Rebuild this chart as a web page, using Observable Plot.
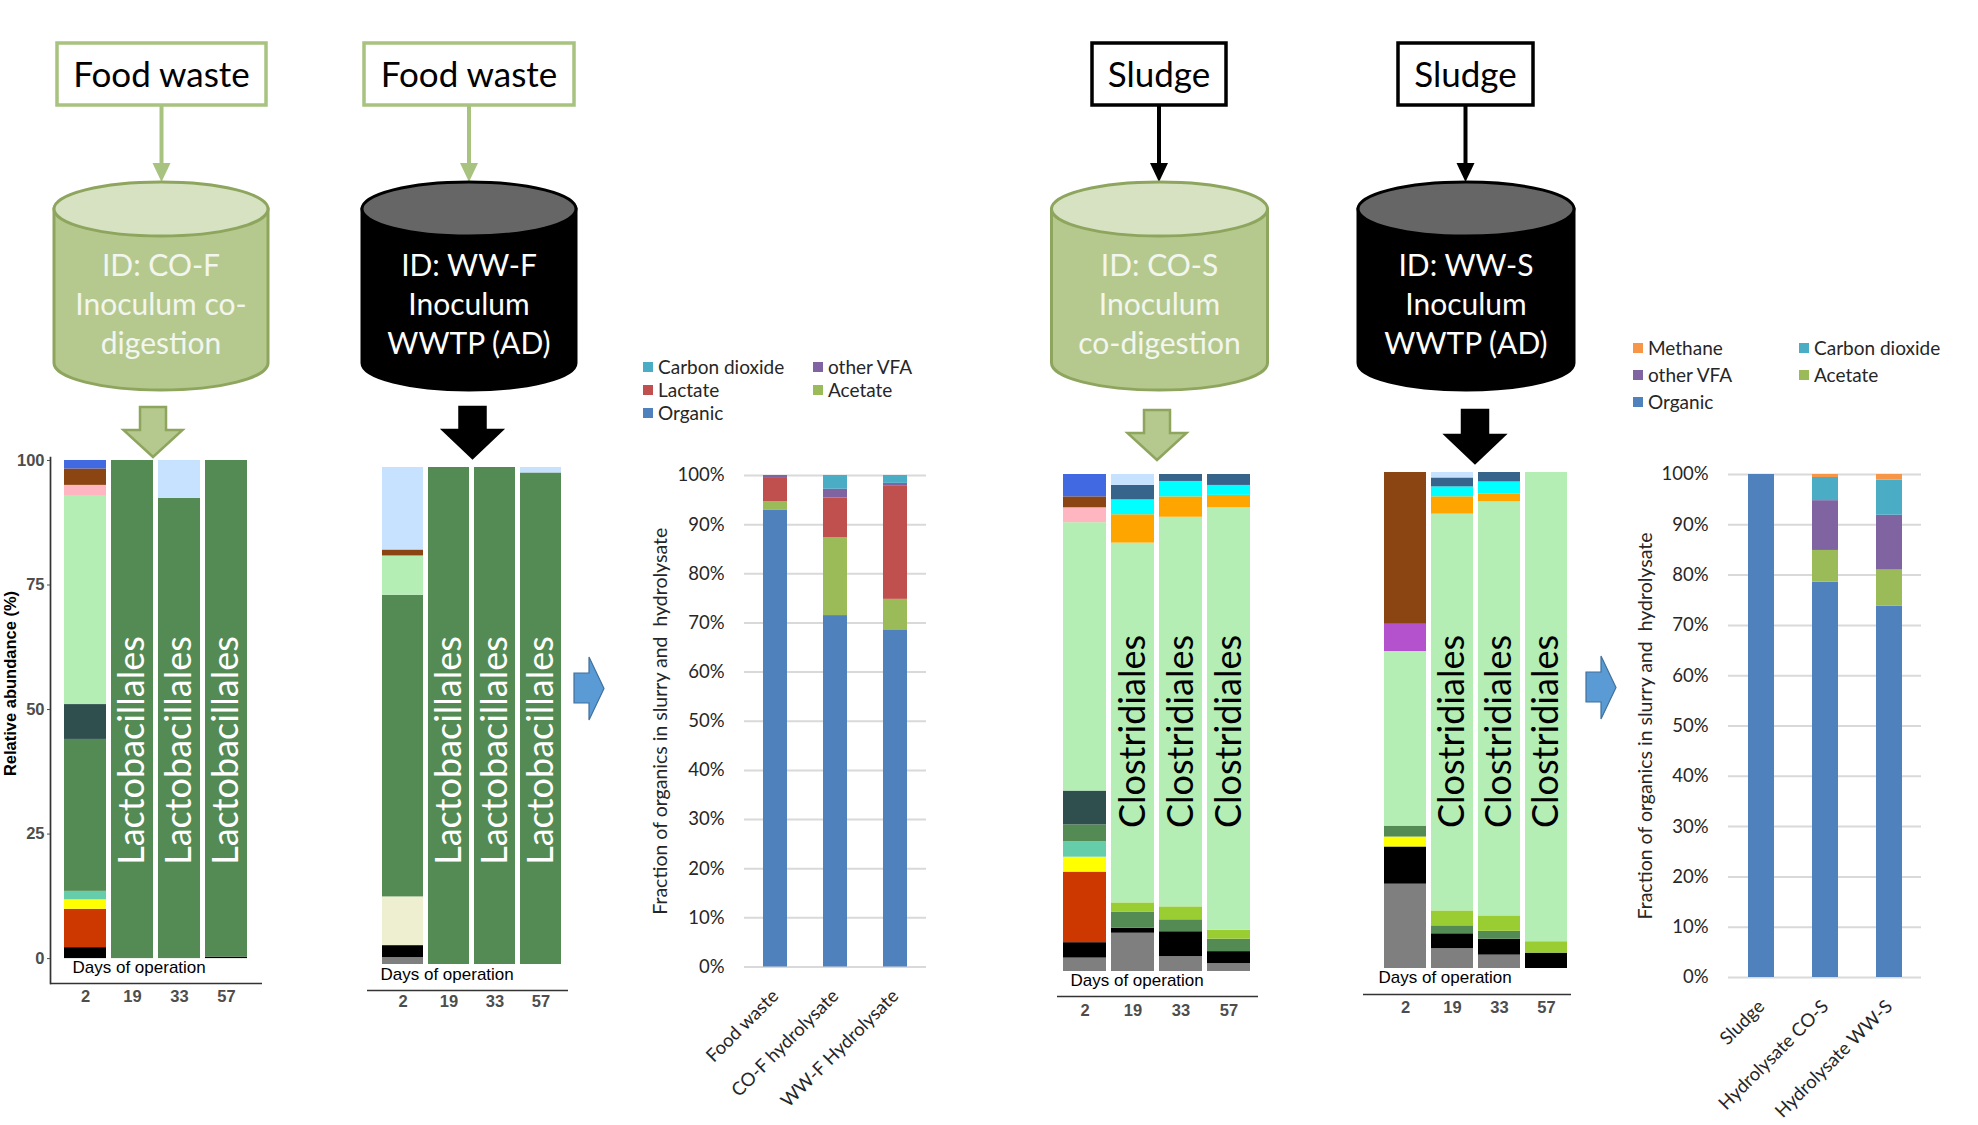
<!DOCTYPE html>
<html>
<head>
<meta charset="utf-8">
<script src="https://cdn.jsdelivr.net/npm/d3@7"></script>
<script src="https://cdn.jsdelivr.net/npm/@observablehq/plot@0.6"></script>
<style>
  html,body{margin:0;padding:0;background:#fff;}
  #root{position:relative;width:1978px;height:1125px;overflow:hidden;background:#fff;}
  .abs{position:absolute;}
  .leg{position:absolute;font-family:Lato,sans-serif;font-size:19px;color:#262626;white-space:nowrap;line-height:19px;}
  .leg i{position:absolute;width:10px;height:10px;left:0;top:-5px;}
  .leg span{position:absolute;left:15px;top:-10px;}
</style>
</head>
<body>
<div id="root"></div>
<script>
// ======================= DATA =======================
const days = ["2", "19", "33", "57"];
// taxonomic orders in stacking order (bottom -> top)
const taxa = ["Order A", "Order B", "Order C", "Order D", "Order E", "Order F",
  "Lactobacillales", "Order G", "Order H", "Clostridiales", "Order I", "Order J",
  "Order K", "Order L", "Order M", "Order N", "Order O", "Order P"];

// relative abundance (%) : [day, taxon, value]
const coF = [
  ["2", "Order B", 2.2], ["2", "Order C", 7.7], ["2", "Order E", 1.9], ["2", "Order F", 1.7],
  ["2", "Lactobacillales", 30.5], ["2", "Order H", 7.0], ["2", "Clostridiales", 41.8],
  ["2", "Order M", 2.2], ["2", "Order N", 3.3], ["2", "Order O", 1.7],
  ["19", "Lactobacillales", 100],
  ["33", "Lactobacillales", 92.4], ["33", "Order P", 7.6],
  ["57", "Order B", 0.3], ["57", "Lactobacillales", 99.7]
];
const wwF = [
  ["2", "Order A", 1.4], ["2", "Order B", 2.4], ["2", "Order D", 9.8], ["2", "Lactobacillales", 60.7],
  ["2", "Clostridiales", 7.9], ["2", "Order N", 1.2], ["2", "Order P", 16.6],
  ["19", "Lactobacillales", 100],
  ["33", "Lactobacillales", 100],
  ["57", "Lactobacillales", 98.9], ["57", "Order P", 1.1]
];
const coS = [
  ["2", "Order A", 2.7], ["2", "Order B", 3.1], ["2", "Order C", 14.2], ["2", "Order E", 3.0],
  ["2", "Order F", 3.1], ["2", "Lactobacillales", 3.4], ["2", "Order H", 6.8], ["2", "Clostridiales", 54.0],
  ["2", "Order M", 3.0], ["2", "Order N", 2.2], ["2", "Order O", 4.5],
  ["19", "Order A", 7.7], ["19", "Order B", 1.0], ["19", "Lactobacillales", 3.2], ["19", "Order G", 1.9],
  ["19", "Clostridiales", 72.4], ["19", "Order J", 5.7], ["19", "Order K", 3.0], ["19", "Order L", 2.9], ["19", "Order P", 2.2],
  ["33", "Order A", 3.0], ["33", "Order B", 5.0], ["33", "Lactobacillales", 2.4], ["33", "Order G", 2.6],
  ["33", "Clostridiales", 78.4], ["33", "Order J", 4.1], ["33", "Order K", 3.1], ["33", "Order L", 1.4],
  ["57", "Order A", 1.6], ["57", "Order B", 2.4], ["57", "Lactobacillales", 2.5], ["57", "Order G", 1.8],
  ["57", "Clostridiales", 85.0], ["57", "Order J", 2.5], ["57", "Order K", 2.0], ["57", "Order L", 2.2]
];
const wwS = [
  ["2", "Order A", 17.0], ["2", "Order B", 7.5], ["2", "Order E", 2.0], ["2", "Lactobacillales", 2.2],
  ["2", "Clostridiales", 35.2], ["2", "Order I", 5.5], ["2", "Order N", 30.6],
  ["19", "Order A", 4.0], ["19", "Order B", 3.0], ["19", "Lactobacillales", 1.6], ["19", "Order G", 3.0],
  ["19", "Clostridiales", 80.0], ["19", "Order J", 3.5], ["19", "Order K", 2.0], ["19", "Order L", 1.8], ["19", "Order P", 1.1],
  ["33", "Order A", 2.7], ["33", "Order B", 3.2], ["33", "Lactobacillales", 1.6], ["33", "Order G", 3.1],
  ["33", "Clostridiales", 83.5], ["33", "Order J", 1.6], ["33", "Order K", 2.4], ["33", "Order L", 1.9],
  ["57", "Order B", 3.1], ["57", "Order G", 2.3], ["57", "Clostridiales", 94.6]
];
const abundanceTicks = [0, 25, 50, 75, 100];
const labelledDays = ["19", "33", "57"];

// fraction of organics (%)
const fwSamples = ["Food waste", "CO-F hydrolysate", "WW-F Hydrolysate"];
const fwOrganic = [92.9, 71.5, 68.6];
const fwAcetate = [1.8, 15.8, 6.2];
const fwLactate = [4.7, 8.1, 23.0];
const fwOtherVFA = [0.6, 1.8, 0.6];
const fwCarbonDioxide = [0.0, 2.8, 1.6];
const fwComponents = ["Organic", "Acetate", "Lactate", "other VFA", "Carbon dioxide"];
const fwLegend = ["Carbon dioxide", "other VFA", "Lactate", "Acetate", "Organic"];

const slSamples = ["Sludge", "Hydrolysate CO-S", "Hydrolysate WW-S"];
const slOrganic = [100.0, 78.6, 73.8];
const slAcetate = [0.0, 6.3, 7.2];
const slOtherVFA = [0.0, 9.9, 10.9];
const slCarbonDioxide = [0.0, 4.6, 7.0];
const slMethane = [0.0, 0.6, 1.1];
const slComponents = ["Organic", "Acetate", "other VFA", "Carbon dioxide", "Methane"];
const slLegend = ["Methane", "Carbon dioxide", "other VFA", "Acetate", "Organic"];
const pctTicks = [0, 10, 20, 30, 40, 50, 60, 70, 80, 90, 100];

// ======================= STYLES =======================
const taxaColors = ["#7F7F7F", "#000000", "#CD3700", "#EEEED1", "#FFFF00", "#66CDAA",
  "#548B54", "#9ACD32", "#2F4F4F", "#B4EEB4", "#B452CD", "#FFA500",
  "#00FFFF", "#36648B", "#FFB6C1", "#8B4513", "#4169E1", "#C6E2FF"];
const compColors = {"Organic": "#4F81BD", "Acetate": "#9BBB59", "Lactate": "#C0504D",
  "other VFA": "#8064A2", "Carbon dioxide": "#4BACC6", "Methane": "#F79646"};

const root = d3.select("#root");

// ======================= DIAGRAM DECOR =======================
const deco = root.append("svg").attr("class", "abs").attr("width", 1978).attr("height", 1125)
  .style("left", "0px").style("top", "0px");

const GREEN_FILL = "#B5C98E", GREEN_TOP = "#D6E2C2", GREEN_STROKE = "#8EA55E", BOX_GREEN = "#A8C280";
const feeds = [
  {label: "Food waste", x0: 57, x1: 266, stroke: BOX_GREEN},
  {label: "Food waste", x0: 364, x1: 574, stroke: BOX_GREEN},
  {label: "Sludge", x0: 1092, x1: 1226, stroke: "#000"},
  {label: "Sludge", x0: 1398, x1: 1533, stroke: "#000"}
];
feeds.forEach(f => {
  const cx = (f.x0 + f.x1) / 2;
  deco.append("rect").attr("x", f.x0).attr("y", 43).attr("width", f.x1 - f.x0).attr("height", 62)
    .attr("fill", "#fff").attr("stroke", f.stroke).attr("stroke-width", 3.5);
  deco.append("text").attr("x", cx).attr("y", 73).attr("text-anchor", "middle")
    .attr("dominant-baseline", "central").attr("font-family", "Lato").attr("font-size", 35)
    .attr("fill", "#000").text(f.label);
  deco.append("line").attr("x1", cx).attr("x2", cx).attr("y1", 106).attr("y2", 166)
    .attr("stroke", f.stroke).attr("stroke-width", 4);
  deco.append("path").attr("d", `M${cx - 9},163L${cx + 9},163L${cx},182Z`).attr("fill", f.stroke);
});

const reactors = [
  {cx: 161, rx: 107, lines: ["ID: CO-F", "Inoculum co-", "digestion"], body: GREEN_FILL, top: GREEN_TOP, stroke: GREEN_STROKE, text: "#F3F6EE"},
  {cx: 469, rx: 107, lines: ["ID: WW-F", "Inoculum", "WWTP (AD)"], body: "#000", top: "#666", stroke: "#000", text: "#fff"},
  {cx: 1159.5, rx: 108, lines: ["ID: CO-S", "Inoculum", "co-digestion"], body: GREEN_FILL, top: GREEN_TOP, stroke: GREEN_STROKE, text: "#F3F6EE"},
  {cx: 1466, rx: 108, lines: ["ID: WW-S", "Inoculum", "WWTP (AD)"], body: "#000", top: "#666", stroke: "#000", text: "#fff"}
];
reactors.forEach(r => {
  const yt = 209, yb = 363, ry = 27, x0 = r.cx - r.rx, x1 = r.cx + r.rx;
  deco.append("path")
    .attr("d", `M${x0},${yt}L${x0},${yb}A${r.rx},${ry} 0 0 0 ${x1},${yb}L${x1},${yt}Z`)
    .attr("fill", r.body).attr("stroke", r.stroke).attr("stroke-width", 3);
  deco.append("ellipse").attr("cx", r.cx).attr("cy", yt).attr("rx", r.rx).attr("ry", ry)
    .attr("fill", r.top).attr("stroke", r.stroke).attr("stroke-width", 3);
  r.lines.forEach((t, i) => {
    deco.append("text").attr("x", r.cx).attr("y", 264 + i * 39).attr("text-anchor", "middle")
      .attr("dominant-baseline", "central").attr("font-family", "Lato").attr("font-size", 30)
      .attr("fill", r.text).text(t);
  });
});

const downArrows = [
  {cx: 153, y0: 407, yh: 430, y1: 457, fill: GREEN_FILL, stroke: GREEN_STROKE},
  {cx: 472.5, y0: 407, yh: 430, y1: 458, fill: "#000", stroke: "#000"},
  {cx: 1157, y0: 410, yh: 433, y1: 460, fill: GREEN_FILL, stroke: GREEN_STROKE},
  {cx: 1475, y0: 410, yh: 435, y1: 463, fill: "#000", stroke: "#000"}
];
downArrows.forEach(a => {
  const s = 13, h = 29.5;
  deco.append("path")
    .attr("d", `M${a.cx - s},${a.y0}L${a.cx + s},${a.y0}L${a.cx + s},${a.yh}L${a.cx + h},${a.yh}L${a.cx},${a.y1}L${a.cx - h},${a.yh}L${a.cx - s},${a.yh}Z`)
    .attr("fill", a.fill).attr("stroke", a.stroke).attr("stroke-width", 2.5).attr("stroke-linejoin", "miter");
});

[[0, 0], [1012, -1]].forEach(([dx, dy]) => {
  const p = [[574, 673], [589, 673], [589, 657], [604, 688.5], [589, 720], [589, 703], [574, 703]]
    .map(([x, y]) => `${x + dx},${y + dy}`).join(" ");
  deco.append("polygon").attr("points", p).attr("fill", "#5B9BD5").attr("stroke", "#41719C").attr("stroke-width", 1.2);
});

// ======================= ABUNDANCE PANELS =======================
function place(node, left, top, w) {
  root.append("div").attr("class", "abs").style("left", left + "px").style("top", top + "px")
    .style("width", w + "px").node().appendChild(node);
}

function taxaPanel(rows, c) {
  const data = rows.map(([day, taxon, value]) => ({day, taxon, value}));
  const marks = [
    Plot.barY(data, Plot.stackY({x: "day", y: "value", fill: "taxon", order: taxa})),
    Plot.ruleY([c.yMin], {stroke: "#333", strokeWidth: 1.7}),
    Plot.axisX({tickSize: 0, tickPadding: c.tickPad, fontWeight: "bold", fontSize: 16.5, color: "#4D4D4D", label: null}),
    Plot.text(["Days of operation"], {text: d => d, frameAnchor: "bottom-left", dx: c.daysDx, dy: c.daysDy,
      textAnchor: "start", fontSize: 17, fill: "#000"}),
    Plot.text(labelledDays, {x: d => d, text: () => c.label, rotate: -90, frameAnchor: "middle", dy: c.labelDy,
      fill: c.labelColor, fontSize: 36, fontFamily: "Lato"})
  ];
  if (c.yAxis) {
    marks.push(
      Plot.frame({anchor: "left", stroke: "#333", strokeWidth: 1.7}),
      Plot.axisY(abundanceTicks, {tickSize: 3, tickPadding: 3, fontWeight: "bold", fontSize: 16.5, color: "#4D4D4D", label: null}),
      Plot.text(["Relative abundance (%)"], {text: d => d, frameAnchor: "left", textAnchor: "middle", rotate: -90,
        dx: -40, dy: -37, fontWeight: "bold", fontSize: 16.5, fill: "#000"})
    );
  }
  const plot = Plot.plot({
    width: c.w, height: c.h,
    marginLeft: c.mL, marginRight: c.mR, marginTop: c.mT, marginBottom: c.mB,
    x: {domain: days, paddingInner: 0.1, paddingOuter: c.po, align: c.align},
    y: {domain: [c.yMin, c.yMax], axis: null},
    color: {domain: taxa, range: taxaColors},
    style: {fontFamily: "Liberation Sans, Arial, sans-serif", background: "transparent", overflow: "visible", maxWidth: "none"},
    marks
  });
  place(plot, c.left, c.top, c.w);
}

taxaPanel(coF, {left: 0, top: 440, w: 270, h: 600, mL: 50, mR: 8, mT: 17, mB: 57,
  yMin: -5, yMax: 100.6, po: 0.28, align: 0.5, tickPad: 7, daysDx: 22, daysDy: -11,
  labelDy: 30, label: "Lactobacillales", labelColor: "#fff", yAxis: true});
taxaPanel(wwF, {left: 350, top: 440, w: 240, h: 600, mL: 17, mR: 22, mT: 27, mB: 50,
  yMin: -5.23, yMax: 100, po: 0.2036, align: 0.684, tickPad: 5, daysDx: 13, daysDy: -11,
  labelDy: 21.5, label: "Lactobacillales", labelColor: "#fff", yAxis: false});
taxaPanel(coS, {left: 1040, top: 440, w: 240, h: 600, mL: 17, mR: 22, mT: 34, mB: 44,
  yMin: -5.03, yMax: 100, po: 0.135, align: 0.46, tickPad: 8, daysDx: 13, daysDy: -11,
  labelDy: -4, label: "Clostridiales", labelColor: "#000", yAxis: false});
taxaPanel(wwS, {left: 1355, top: 440, w: 240, h: 600, mL: 8, mR: 24, mT: 32, mB: 46,
  yMin: -5.24, yMax: 100, po: 0.2307, align: 0.864, tickPad: 7, daysDx: 15, daysDy: -12,
  labelDy: -2, label: "Clostridiales", labelColor: "#000", yAxis: false});

// ======================= ORGANICS CHARTS =======================
function organicsChart(samples, comps, series, c) {
  const data = comps.flatMap((comp, j) => samples.map((s, i) => ({sample: s, component: comp, value: series[j][i] / 100})));
  const ticks = pctTicks.map(t => t / 100);
  const plot = Plot.plot({
    width: c.w, height: c.h,
    marginLeft: c.mL, marginRight: c.mR, marginTop: c.mT, marginBottom: c.mB,
    x: {domain: samples, paddingInner: 0.6, paddingOuter: 0.3},
    y: {domain: [0, 1], axis: null},
    color: {domain: comps, range: comps.map(k => compColors[k])},
    style: {fontFamily: "Lato, sans-serif", background: "transparent", overflow: "visible", maxWidth: "none", color: "#262626"},
    marks: [
      Plot.gridY(ticks, {stroke: "#D9D9D9", strokeOpacity: 1, strokeWidth: 2}),
      Plot.barY(data, Plot.stackY({x: "sample", y: "value", fill: "component", order: comps})),
      Plot.axisY(ticks, {tickFormat: d3.format(".0%"), tickSize: 0, tickPadding: 20, fontSize: 18.5, label: null}),
      Plot.axisX({tickRotate: -45, tickSize: 0, tickPadding: c.xPad, fontSize: 18.5, label: null}),
      Plot.text(["Fraction of organics in slurry and\u00a0 hydrolysate"], {text: d => d, frameAnchor: "left",
        textAnchor: "middle", rotate: -90, dx: c.yLabelDx, fontSize: 19.5, fill: "#262626"})
    ]
  });
  place(plot, c.left, c.top, c.w);
  // legend (2 columns)
  c.legend.forEach((name, i) => {
    const x = c.legX + (i % 2) * c.legCol, y = c.legY + Math.floor(i / 2) * c.legRow;
    const item = root.append("div").attr("class", "leg").style("left", x + "px").style("top", y + "px");
    item.append("i").style("background", compColors[name]);
    item.append("span").text(name);
  });
}

organicsChart(fwSamples, fwComponents, [fwOrganic, fwAcetate, fwLactate, fwOtherVFA, fwCarbonDioxide],
  {left: 630, top: 440, w: 320, h: 640, mL: 114, mR: 24, mT: 35, mB: 113.5, xPad: 26, yLabelDx: -84,
   legend: fwLegend, legX: 643, legY: 367, legCol: 170, legRow: 23});
organicsChart(slSamples, slComponents, [slOrganic, slAcetate, slOtherVFA, slCarbonDioxide, slMethane],
  {left: 1615, top: 440, w: 340, h: 650, mL: 113, mR: 34, mT: 34, mB: 113, xPad: 26, yLabelDx: -83,
   legend: slLegend, legX: 1633, legY: 348, legCol: 166, legRow: 27});
</script>
</body>
</html>
